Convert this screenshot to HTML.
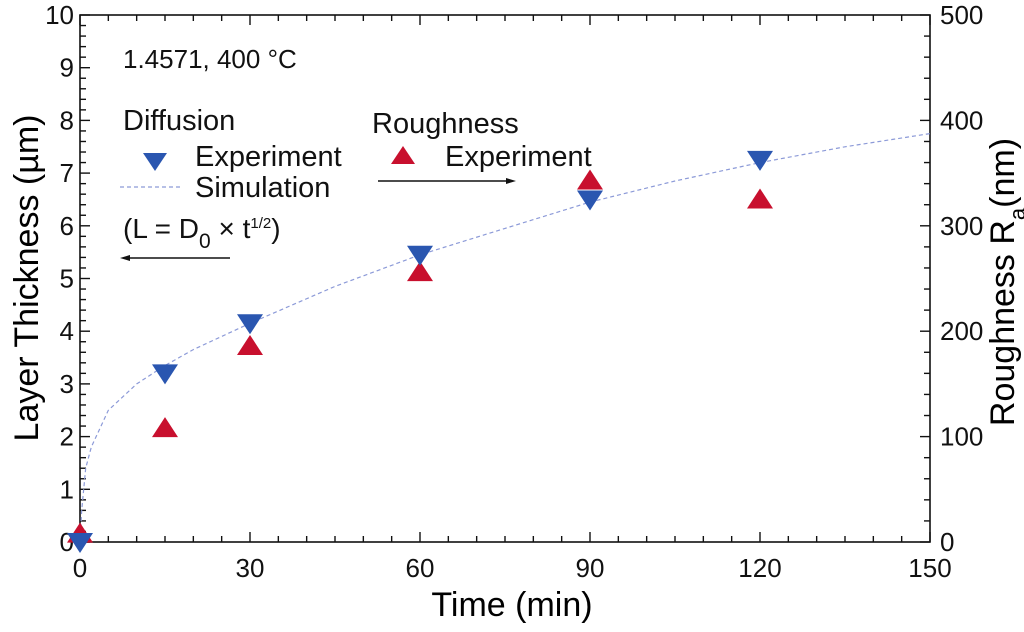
<!DOCTYPE html>
<html><head><meta charset="utf-8"><style>
body{margin:0;background:#fff}
svg{display:block;font-family:"Liberation Sans",Arial,sans-serif}
</style></head><body>
<svg id="chart" width="1024" height="632">
<g id="axes"></g>
<g id="marks"></g>
<g font-size="29" fill="#111">
<text x="123" y="68" font-size="26">1.4571, 400 °C</text>
<text x="123" y="130">Diffusion</text>
<polygon points="143,153 167,153 155,171" fill="#2a56b0"/>
<text x="195" y="166">Experiment</text>
<line x1="120" y1="187" x2="182" y2="187" stroke="#8c9ad8" stroke-width="1.2" stroke-dasharray="4,3"/>
<text x="195" y="197">Simulation</text>
<text x="123" y="238" font-size="28">(L = D<tspan dy="10" font-size="21">0</tspan><tspan dy="-10"> × t</tspan><tspan dy="-10" font-size="15">1/2</tspan><tspan dy="10">)</tspan></text>
<line x1="128" y1="258" x2="230" y2="258" stroke="#111" stroke-width="1.5"/>
<polygon points="120,258 130,255 130,261" fill="#111"/>
<text x="372" y="133">Roughness</text>
<polygon points="403,146 391,164 415,164" fill="#c8102e"/>
<text x="445" y="166">Experiment</text>
<line x1="378" y1="181" x2="508" y2="181" stroke="#111" stroke-width="1.5"/>
<polygon points="516,181 506,178 506,184" fill="#111"/>
</g>
<text x="512" y="616" text-anchor="middle" font-size="34">Time (min)</text>
<text transform="translate(38,278) rotate(-90)" text-anchor="middle" font-size="34">Layer Thickness (µm)</text>
<text transform="translate(1014,282) rotate(-90)" text-anchor="middle" font-size="34">Roughness R<tspan dy="11" font-size="22">a</tspan><tspan dy="-11">(nm)</tspan></text>
</svg>
<script>
const xTicks=[0,30,60,90,120,150];
const yLeftTicks=[0,1,2,3,4,5,6,7,8,9,10];
const yRightTicks=[0,100,200,300,400,500];
const diffTimes=[0,15,30,60,90,120];
const diffValues=[0,3.2,4.15,5.45,6.5,7.25];
const roughTimes=[0,15,30,60,90,120];
const roughValues=[8,108,186,256,343,325];
const simTimes=[0,0.3,1,2,5,10,15,20,30,45,60,75,90,105,120,135,150];
const simValues=[0,0.6,1.4,1.8,2.5,3.0,3.35,3.65,4.15,4.85,5.45,5.95,6.45,6.85,7.2,7.5,7.75];
const L=80,R=930,T=15,B=542;
const xs=v=>L+(v/150)*(R-L);
const yl=v=>B-(v/10)*(B-T);
const yr=v=>B-(v/500)*(B-T);
const NS="http://www.w3.org/2000/svg";
const ax=document.getElementById('axes'),mk=document.getElementById('marks');
function mkEl(tag,attrs,parent){const e=document.createElementNS(NS,tag);for(const k in attrs)e.setAttribute(k,attrs[k]);parent.appendChild(e);return e;}
const frame=mkEl('rect',{x:L,y:T,width:R-L,height:B-T,fill:'none',stroke:'#111','stroke-width':1.6},ax);


for(let v=0;v<=150;v+=5){const maj=v%30===0,len=maj?10:6;const x=xs(v);
mkEl('line',{x1:x,y1:B,x2:x,y2:B-len,stroke:'#111','stroke-width':1.4},ax);
mkEl('line',{x1:x,y1:T,x2:x,y2:T+len,stroke:'#111','stroke-width':1.4},ax);}
xTicks.forEach(v=>{const t=mkEl('text',{x:xs(v),y:B+35,'text-anchor':'middle','font-size':26,fill:'#111'},ax);t.textContent=v;

});
for(let i=0;i<=50;i++){const v=i*0.2,maj=i%5===0,len=maj?10:6,y=yl(v);
mkEl('line',{x1:L,y1:y,x2:L+len,y2:y,stroke:'#111','stroke-width':1.4},ax);}
for(let i=0;i<=25;i++){const v=i*20,maj=i%5===0,len=maj?10:6,y=yr(v);
mkEl('line',{x1:R,y1:y,x2:R-len,y2:y,stroke:'#111','stroke-width':1.4},ax);}
yLeftTicks.forEach(v=>{const t=mkEl('text',{x:L-6,y:yl(v)+9,'text-anchor':'end','font-size':26,fill:'#111'},ax);t.textContent=v;

});
yRightTicks.forEach(v=>{const t=mkEl('text',{x:R+10,y:yr(v)+9,'text-anchor':'start','font-size':26,fill:'#111'},ax);t.textContent=v;

});
const d=simTimes.map((t,i)=>(i?'L':'M')+xs(t).toFixed(1)+','+yl(simValues[i]).toFixed(1)).join(' ');
const sim=mkEl('path',{d:d,fill:'none',stroke:'#8c9ad8','stroke-width':1.2,'stroke-dasharray':'4,3'},mk);


roughTimes.forEach((t,i)=>{const x=xs(t),y=yr(roughValues[i]);
const p=mkEl('polygon',{points:`${x},${y-11} ${x-13},${y+9} ${x+13},${y+9}`,fill:'#c8102e'},mk);

});
diffTimes.forEach((t,i)=>{const x=xs(t),y=yl(diffValues[i]);
const p=mkEl('polygon',{points:`${x-13},${y-9} ${x+13},${y-9} ${x},${y+11}`,fill:'#2a56b0'},mk);

});
</script>
</body></html>
